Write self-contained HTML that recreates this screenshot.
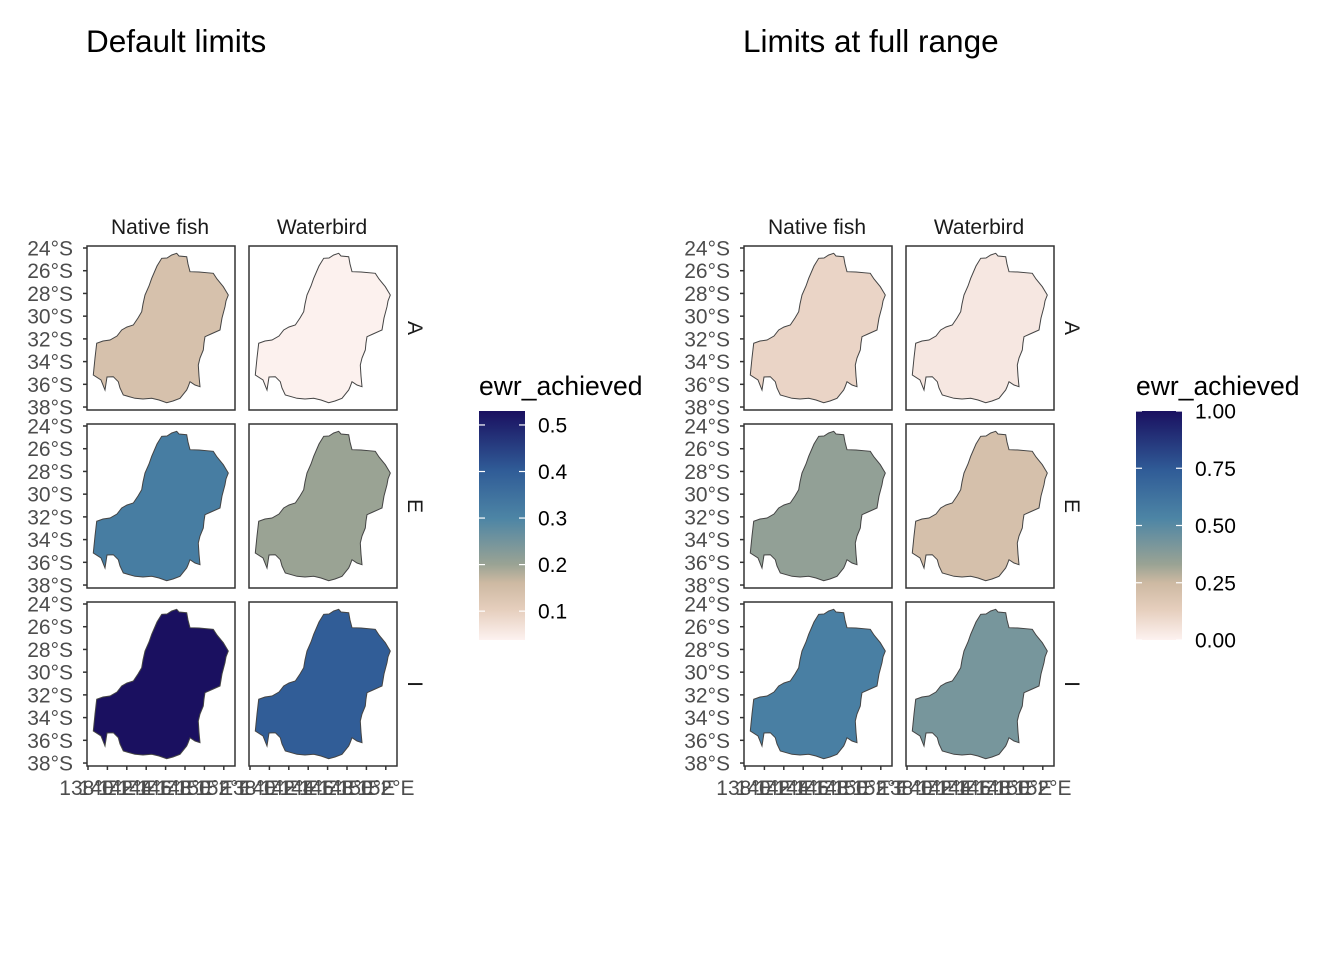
<!DOCTYPE html>
<html><head><meta charset="utf-8"><style>
body{margin:0;background:#fff;font-family:"Liberation Sans",Arial,sans-serif}
svg text{font-family:"Liberation Sans",Arial,sans-serif}
</style></head><body>
<svg id="chart" width="1344" height="960" xmlns="http://www.w3.org/2000/svg">
<defs>
<linearGradient id="grad" x1="0" y1="1" x2="0" y2="0">
<stop offset="0" stop-color="#fdf2f0"/><stop offset="0.13" stop-color="#e6cfbe"/>
<stop offset="0.25" stop-color="#cdb9a2"/><stop offset="0.33" stop-color="#9aa394"/>
<stop offset="0.53" stop-color="#4d85a5"/><stop offset="0.74" stop-color="#305c97"/>
<stop offset="1" stop-color="#1a1060"/>
</linearGradient>
</defs>
</svg>
<script>
const rows = ['A','E','I'];
const cols = ['Native fish','Waterbird'];
const valuesDefault = [[0.14,0.04],[0.32,0.20],[0.53,0.40]];
const valuesFull = [[0.11,0.04],[0.35,0.21],[0.56,0.42]];
const lonTicks = [138,140,142,144,146,148,150,152];
const latTicks = [24,26,28,30,32,34,36,38];
const legendDefaultTicks = [0.1,0.2,0.3,0.4,0.5];
const legendFullTicks = [0,0.25,0.5,0.75,1];
const limitsDefault = [0.038,0.53];
const limitsFull = [0,1];

const NS='http://www.w3.org/2000/svg';
const svg=document.getElementById('chart');
function mk(tag,attrs,parent){const e=document.createElementNS(NS,tag);for(const k in attrs)e.setAttribute(k,attrs[k]);(parent||svg).appendChild(e);return e;}
const stops=[[0,[253,242,240]],[0.13,[230,207,190]],[0.25,[205,185,162]],[0.33,[154,163,148]],[0.53,[77,133,165]],[0.74,[48,92,151]],[1,[26,16,96]]];
function colorAt(t){t=Math.max(0,Math.min(1,t));for(let i=1;i<stops.length;i++){if(t<=stops[i][0]){const a=stops[i-1],b=stops[i];const f=(t-a[0])/(b[0]-a[0]);const c=a[1].map((v,j)=>Math.round(v+(b[1][j]-v)*f));return `rgb(${c})`;}}return 'rgb(26,16,96)';}
const shape=[[84.7,9],[89.7,7.3],[92,10],[99.7,10.7],[101,18],[103,25.7],[112,26],[126.3,27.3],[130,33],[136.3,40.7],[141.3,49],[139,55],[138,60.7],[135,72],[133,84],[124,88],[118,90.7],[117,97],[116.3,104],[113,112],[111.3,119],[112,130],[113,140.7],[108,139],[103,135.7],[101,141],[99.7,144],[93,152.3],[86,155],[79.7,156.7],[72,154],[64.7,152.3],[56,153],[48,152.3],[36.3,149],[33,142],[31.3,135.7],[26.3,130.7],[20,131],[18,144],[14,134],[6.3,129],[8,112],[9.7,97.3],[16,95],[23,94],[30,90],[34.7,84],[40,81],[46.3,79],[51,72],[54.7,65.7],[56,58],[58,49],[62,40],[64.7,32.3],[70,20],[74.7,12.3],[80,12]];
const shapeD='M'+shape.map(p=>p.join(',')).join('L')+'Z';
const pw=148,ph=164,colX=[0,162],rowY=[246,424,602];
const xs=lon=>1+(lon-138)*9.7;
const ys=lat=>2+(lat-24)*11.36;

function plot(ox,title,vals,lim,ticks,fmt){
  const g=mk('g',{});
  
  
  const t=mk('text',{x:ox-1,y:52,'font-size':31.5,fill:'#000'},g);t.textContent=title;
  
  cols.forEach((c,ci)=>{const s=mk('text',{x:ox+colX[ci]+pw/2-1,y:234,'font-size':21,'text-anchor':'middle',fill:'#1a1a1a'},g);s.textContent=c;
    });
  rows.forEach((r,ri)=>{
    const y0=rowY[ri];
    const s=mk('text',{x:0,y:0,'font-size':21,'text-anchor':'middle',fill:'#1a1a1a',transform:`translate(${ox+colX[1]+pw+11},${y0+ph/2}) rotate(90)`},g);s.textContent=r;
    
    latTicks.forEach(l=>{const yy=y0+ys(l);mk('line',{x1:ox-4,x2:ox,y1:yy,y2:yy,stroke:'#333','stroke-width':1.5},g);
      const tx=mk('text',{x:ox-14,y:yy+7.5,'font-size':21,'text-anchor':'end',fill:'#4d4d4d'},g);tx.textContent=l+'°S';
      });
    cols.forEach((c,ci)=>{
      const x0=ox+colX[ci];
      const rc=mk('rect',{x:x0,y:y0,width:pw,height:ph,fill:'#fff',stroke:'#333','stroke-width':1.5},g);
      
      const p=mk('path',{d:shapeD,transform:`translate(${x0},${y0})`,fill:colorAt((vals[ri][ci]-lim[0])/(lim[1]-lim[0])),stroke:'#444','stroke-width':1},g);
      
    });
  });
  cols.forEach((c,ci)=>{const x0=ox+colX[ci];lonTicks.forEach(l=>{const xx=x0+xs(l);mk('line',{x1:xx,x2:xx,y1:766,y2:770,stroke:'#333','stroke-width':1.5},g);
    const tx=mk('text',{x:xx,y:795,'font-size':21,'text-anchor':'middle',fill:'#4d4d4d'},g);tx.textContent=l+'°E';
    });});
  const lx=ox+392,ly=411,lh=229,lw=46;
  const lt=mk('text',{x:lx,y:395,'font-size':26.5,fill:'#000'},g);lt.textContent='ewr_achieved';
  
  const bar=mk('rect',{x:lx,y:ly,width:lw,height:lh,fill:'url(#grad)'},g);
  
  ticks.forEach(v=>{const yy=ly+lh-(v-lim[0])/(lim[1]-lim[0])*lh;
    mk('line',{x1:lx,x2:lx+6,y1:yy,y2:yy,stroke:'#fff','stroke-width':1.2},g);
    mk('line',{x1:lx+lw-6,x2:lx+lw,y1:yy,y2:yy,stroke:'#fff','stroke-width':1.2},g);
    const tx=mk('text',{x:lx+59,y:yy+7.5,'font-size':21,fill:'#000'},g);tx.textContent=fmt(v);
    });
}
plot(87,'Default limits',valuesDefault,limitsDefault,legendDefaultTicks,v=>v.toFixed(1));
plot(744,'Limits at full range',valuesFull,limitsFull,legendFullTicks,v=>v.toFixed(2));
</script>
</body></html>
